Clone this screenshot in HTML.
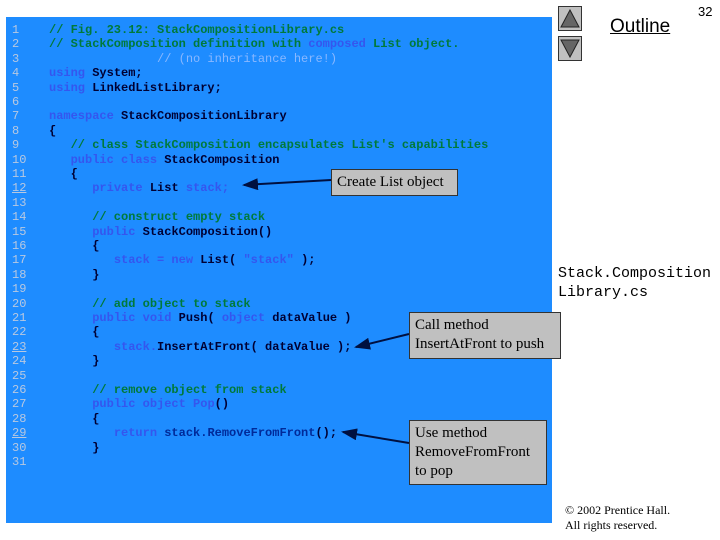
<!DOCTYPE html>
<html><head><style>
body{margin:0;width:720px;height:540px;background:#fff;position:relative;overflow:hidden}
#code{position:absolute;left:6px;top:17px;width:546px;height:506px;background:#1e8cff}
.l{position:absolute;left:0;font:bold 12px/14.4px "Liberation Mono",monospace;white-space:pre;color:#000033}
.n{position:absolute;left:12px;font:12px/14.4px "Liberation Mono",monospace;color:#b8c8e0}
.c{color:#007a3a}.k{color:#3556ee}.s{color:#002a99}
.box{position:absolute;background:#c0c0c0;border:1px solid #333;font:15px/19px "Liberation Serif",serif;color:#000;padding:2px 5px;box-sizing:border-box}
.btn{position:absolute;left:558px;width:24px;height:25px;background:#c0c0c0;border:1px solid #333;box-sizing:border-box}
</style></head><body>
<div id="code"></div>
<div style="position:absolute;left:0;top:23px;width:560px;height:460px">
<div class="n" style="top:0">1</div><div class="l" style="left:49px;top:0"><span class="c">// Fig. 23.12: StackCompositionLibrary.cs</span></div>
<div class="n" style="top:14.4px">2</div><div class="l" style="left:49px;top:14.4px"><span class="c">// StackComposition definition with </span><span class="k">composed</span><span class="c"> List object.</span></div>
<div class="n" style="top:28.8px">3</div><div class="l" style="left:49px;top:28.8px"><span style="color:#8ab8ff;font-weight:normal">               // (no inheritance here!)</span></div>
<div class="n" style="top:43.2px">4</div><div class="l" style="left:49px;top:43.2px"><span class="k">using</span> System;</div>
<div class="n" style="top:57.6px">5</div><div class="l" style="left:49px;top:57.6px"><span class="k">using</span> LinkedListLibrary;</div>
<div class="n" style="top:72px">6</div>
<div class="n" style="top:86.4px">7</div><div class="l" style="left:49px;top:86.4px"><span class="k">namespace</span> StackCompositionLibrary</div>
<div class="n" style="top:100.8px">8</div><div class="l" style="left:49px;top:100.8px">{</div>
<div class="n" style="top:115.2px">9</div><div class="l" style="left:49px;top:115.2px"><span class="c">   // class StackComposition encapsulates List's capabilities</span></div>
<div class="n" style="top:129.6px">10</div><div class="l" style="left:49px;top:129.6px">   <span class="k">public class</span> StackComposition</div>
<div class="n" style="top:144px">11</div><div class="l" style="left:49px;top:144px">   {</div>
<div class="n" style="top:158.4px;text-decoration:underline">12</div><div class="l" style="left:49px;top:158.4px">      <span class="k">private</span> List <span class="k">stack;</span></div>
<div class="n" style="top:172.8px">13</div>
<div class="n" style="top:187.2px">14</div><div class="l" style="left:49px;top:187.2px"><span class="c">      // construct empty stack</span></div>
<div class="n" style="top:201.6px">15</div><div class="l" style="left:49px;top:201.6px">      <span class="k">public</span> StackComposition()</div>
<div class="n" style="top:216px">16</div><div class="l" style="left:49px;top:216px">      {</div>
<div class="n" style="top:230.4px">17</div><div class="l" style="left:49px;top:230.4px">         <span class="k">stack = new</span> List( <span class="k">"stack"</span> );</div>
<div class="n" style="top:244.8px">18</div><div class="l" style="left:49px;top:244.8px">      }</div>
<div class="n" style="top:259.2px">19</div>
<div class="n" style="top:273.6px">20</div><div class="l" style="left:49px;top:273.6px"><span class="c">      // add object to stack</span></div>
<div class="n" style="top:288px">21</div><div class="l" style="left:49px;top:288px">      <span class="k">public void</span> Push( <span class="k">object</span> dataValue )</div>
<div class="n" style="top:302.4px">22</div><div class="l" style="left:49px;top:302.4px">      {</div>
<div class="n" style="top:316.8px;text-decoration:underline">23</div><div class="l" style="left:49px;top:316.8px">         <span class="k">stack.</span>InsertAtFront( dataValue );</div>
<div class="n" style="top:331.2px">24</div><div class="l" style="left:49px;top:331.2px">      }</div>
<div class="n" style="top:345.6px">25</div>
<div class="n" style="top:360px">26</div><div class="l" style="left:49px;top:360px"><span class="c">      // remove object from stack</span></div>
<div class="n" style="top:374.4px">27</div><div class="l" style="left:49px;top:374.4px">      <span class="k">public object Pop</span>()</div>
<div class="n" style="top:388.8px">28</div><div class="l" style="left:49px;top:388.8px">      {</div>
<div class="n" style="top:403.2px;text-decoration:underline">29</div><div class="l" style="left:49px;top:403.2px">         <span class="k">return</span> <span class="s">stack.RemoveFromFront</span>();</div>
<div class="n" style="top:417.6px">30</div><div class="l" style="left:49px;top:417.6px">      }</div>
<div class="n" style="top:432px">31</div>
</div>
<svg style="position:absolute;left:0;top:0" width="720" height="540">
<defs><marker id="a" markerWidth="8" markerHeight="6" refX="7" refY="3" orient="auto"><path d="M0,0L8,3L0,6z" fill="#001040"/></marker></defs>
<line x1="331" y1="180" x2="244" y2="185" stroke="#001040" stroke-width="2" marker-end="url(#a)"/>
<line x1="409" y1="334" x2="356" y2="347" stroke="#001040" stroke-width="2" marker-end="url(#a)"/>
<line x1="409" y1="443" x2="343" y2="432" stroke="#001040" stroke-width="2" marker-end="url(#a)"/>
</svg>
<div class="box" style="left:331px;top:169px;width:127px;height:27px;padding-top:3px">Create List object</div>
<div class="box" style="left:409px;top:312px;width:152px;height:47px;padding-top:3px">Call method<br>InsertAtFront to push</div>
<div class="box" style="left:409px;top:420px;width:138px;height:65px;padding-top:3px">Use method<br>RemoveFromFront<br>to pop</div>
<div class="btn" style="top:6px"><svg width="22" height="23"><path d="M11,3L20,20H2z" fill="#666" stroke="#222"/></svg></div>
<div class="btn" style="top:36px"><svg width="22" height="23"><path d="M2,3H20L11,20z" fill="#666" stroke="#222"/></svg></div>
<div style="position:absolute;left:610px;top:16px;font:19px/22px 'Liberation Sans',sans-serif;text-decoration:underline">Outline</div>
<div style="position:absolute;left:698px;top:4px;font:13px/16px 'Liberation Sans',sans-serif">32</div>
<div style="position:absolute;left:558px;top:264px;font:15px/19px 'Liberation Mono',monospace">Stack.Composition<br>Library.cs</div>
<div style="position:absolute;left:565px;top:503px;font:12px/15px 'Liberation Serif',serif">© 2002 Prentice Hall.<br>All rights reserved.</div>
</body></html>
